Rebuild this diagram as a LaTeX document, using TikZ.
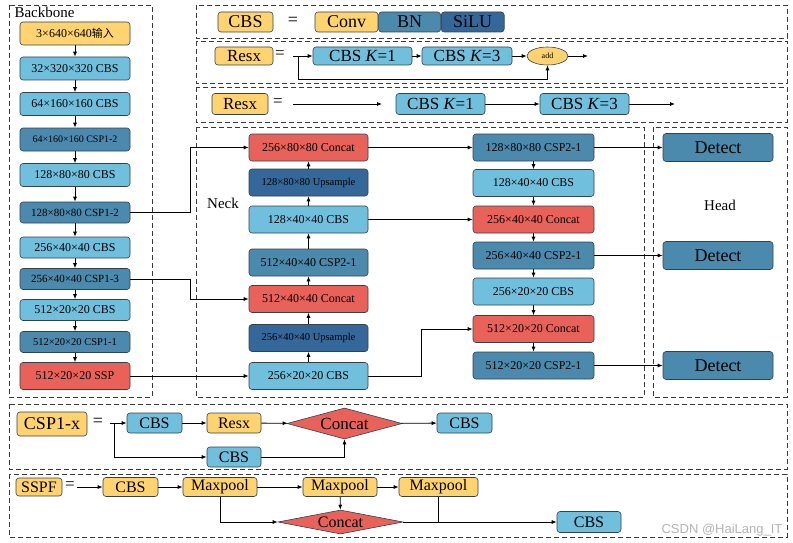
\documentclass[tikz,border=0pt]{standalone}
\usepackage{fontspec}
\setmainfont{Liberation Serif}
\newfontfamily\cjk{Noto Sans CJK SC}
\newfontfamily\wmfont{Liberation Sans}
\usepackage{tikz}
\usetikzlibrary{positioning,arrows.meta,shapes.geometric}
\definecolor{edgegray}{HTML}{33414F}
\definecolor{inyellow}{HTML}{FFD36F}
\definecolor{cbsblue}{HTML}{70BFDD}
\definecolor{cspblue}{HTML}{4B89AD}
\definecolor{updark}{HTML}{34679A}
\definecolor{catred}{HTML}{E8625A}
\definecolor{framegray}{HTML}{3A3A3A}
\definecolor{wmgray}{HTML}{B4B4B4}
\newcommand{\fsz}[1]{\fontsize{#1}{#1}\selectfont}
\tikzset{
    blk/.style={
        draw=edgegray, rounded corners=3pt, line width=0.6pt,
        inner sep=1pt, align=center
    },
    inbox/.style={blk, fill=inyellow},
    cbsbox/.style={blk, fill=cbsblue},
    cspbox/.style={blk, fill=cspblue},
    upbox/.style={blk, fill=updark},
    catbox/.style={blk, fill=catred},
    catdia/.style={
        draw=edgegray, fill=catred, diamond, line width=0.6pt,
        inner sep=0pt, aspect=3.7
    },
    bbnode/.style={minimum width=110pt, minimum height=21pt, font=\fsz{12}},
    necknode/.style={minimum width=119pt, minimum height=27pt, font=\fsz{12}},
    headnode/.style={minimum width=121pt, minimum height=27pt, font=\fsz{12}},
    detect/.style={cspbox, minimum width=110pt, minimum height=28pt, font=\fsz{18}},
    groupbox/.style={draw=framegray, line width=0.9pt, dash pattern=on 5pt off 3pt},
    arrow/.style={-{Latex[length=5pt,width=4pt]}, line width=0.8pt, color=black},
    plain/.style={line width=0.8pt, color=black},
}
\begin{document}
\begin{tikzpicture}[x=1pt, y=-1pt, every node/.style={align=center}]
\useasboundingbox (0,0) rectangle (793,543);

% frames
\draw[groupbox] (9,5) rectangle (152,397);
\draw[groupbox] (196,5) rectangle (787,38);
\draw[groupbox] (196,41) rectangle (787,83);
\draw[groupbox] (196,87) rectangle (787,122);
\draw[groupbox] (196,127) rectangle (644,397);
\draw[groupbox] (653,127) rectangle (787,397);
\draw[groupbox] (9,404) rectangle (787,469);
\draw[groupbox] (9,474) rectangle (787,537);

% backbone
\node[anchor=base west, font=\fsz{15}] (bblabel) at (11,18) {Backbone};
\node[inbox, bbnode, minimum height=23pt] (b1) at (75,33.5) {3×640×640{\cjk\fsz{11}输入}};
\node[cbsbox, bbnode, minimum height=23pt] (b2) at (75,68.5) {32×320×320 CBS};
\node[cbsbox, bbnode, minimum height=23pt] (b3) at (75,104) {64×160×160 CBS};
\node[cspbox, bbnode, minimum height=23pt, font=\fsz{10}] (b4) at (75,139.5) {64×160×160 CSP1-2};
\node[cbsbox, bbnode, minimum height=23pt] (b5) at (75,175) {128×80×80 CBS};
\node[cspbox, bbnode, font=\fsz{11}] (b6) at (75,212.5) {128×80×80 CSP1-2};
\node[cbsbox, bbnode] (b7) at (75,247.5) {256×40×40 CBS};
\node[cspbox, bbnode, font=\fsz{11}] (b8) at (75,279) {256×40×40 CSP1-3};
\node[cbsbox, bbnode] (b9) at (75,310) {512×20×20 CBS};
\node[cspbox, bbnode, font=\fsz{10.5}] (b10) at (75,342) {512×20×20 CSP1-1};
\node[catbox, bbnode, minimum height=27pt] (b11) at (75,376) {512×20×20 SSP};
\foreach \a/\b in {b1/b2,b2/b3,b3/b4,b4/b5,b5/b6,b6/b7,b7/b8,b8/b9,b9/b10,b10/b11}
    \draw[arrow] (\a) -- (\b);

% neck
\node[font=\fsz{15}] (necklabel) at (223,203) {Neck};
\node[catbox, necknode] (n1) at (308.5,147.5) {256×80×80 Concat};
\node[upbox, necknode, font=\fsz{10.5}] (n2) at (308.5,182.5) {128×80×80 Upsample};
\node[cbsbox, necknode] (n3) at (308.5,219.5) {128×40×40 CBS};
\node[cspbox, necknode] (n4) at (308.5,262.5) {512×40×40 CSP2-1};
\node[catbox, necknode] (n5) at (308.5,299) {512×40×40 Concat};
\node[upbox, necknode, font=\fsz{10.5}] (n6) at (308.5,338) {256×40×40 Upsample};
\node[cbsbox, necknode] (n7) at (308.5,376) {256×20×20 CBS};
\foreach \a/\b in {n7/n6,n6/n5,n5/n4,n4/n3,n3/n2,n2/n1}
    \draw[arrow] (\a) -- (\b);

\node[cspbox, headnode] (p1) at (533.5,147.5) {128×80×80 CSP2-1};
\node[cbsbox, headnode] (p2) at (533.5,183) {128×40×40 CBS};
\node[catbox, headnode] (p3) at (533.5,219.5) {256×40×40 Concat};
\node[cspbox, headnode] (p4) at (533.5,255.5) {256×40×40 CSP2-1};
\node[cbsbox, headnode] (p5) at (533.5,291.5) {256×20×20 CBS};
\node[catbox, headnode] (p6) at (533.5,329) {512×20×20 Concat};
\node[cspbox, headnode] (p7) at (533.5,365.5) {512×20×20 CSP2-1};
\foreach \a/\b in {p1/p2,p2/p3,p3/p4,p4/p5,p5/p6,p6/p7}
    \draw[arrow] (\a) -- (\b);

% head
\node[font=\fsz{15}] (headlabel) at (720,205) {Head};
\node[detect] (d1) at (718,147.5) {Detect};
\node[detect] (d2) at (718,255.5) {Detect};
\node[detect] (d3) at (718,365.5) {Detect};

% links
\draw[arrow] (b6.east) -- ++(60,0) |- (n1.west);
\draw[arrow] (b8.east) -- ++(60,0) |- (n5.west);
\draw[arrow] (b11) -- (n7);
\draw[arrow] (n1) -- (p1);
\draw[arrow] (n3) -- (p3);
\draw[arrow] (n7.east) -- ++(53,0) |- (p6.west);
\draw[arrow] (p1) -- (d1);
\draw[arrow] (p4) -- (d2);
\draw[arrow] (p7) -- (d3);

% CBS legend
\node[inbox, minimum width=55pt, minimum height=20pt, font=\fsz{18}] (cbskey) at (245.5,22) {CBS};
\node[font=\fsz{18}] (eq1) at (293,21) {=};
\node[inbox, minimum width=63pt, minimum height=20pt, font=\fsz{18}] (conv) at (346.5,22) {Conv};
\node[cspbox, minimum width=62pt, minimum height=20pt, font=\fsz{18}, right=0pt of conv] (bn) {BN};
\node[upbox, minimum width=63pt, minimum height=20pt, font=\fsz{18}, right=0pt of bn] (silu) {SiLU};

% Resx with add
\node[inbox, minimum width=58pt, minimum height=18pt, font=\fsz{17}] (resa) at (244,56) {Resx};
\node[font=\fsz{17}] (eq2) at (280,55) {=};
\coordinate (resin) at (293,56);
\coordinate (fb) at (298,56);
\node[cbsbox, minimum width=99pt, minimum height=18pt, font=\fsz{17}] (k1a) at (362.5,56) {CBS \textit{K}=1};
\node[cbsbox, minimum width=90pt, minimum height=18pt, font=\fsz{17}] (k3a) at (467,56) {CBS \textit{K}=3};
\node[ellipse, draw=edgegray, fill=inyellow, line width=0.6pt, minimum width=41pt, minimum height=18pt, inner sep=0pt, font=\fsz{8}] (add) at (547.5,56) {add};
\coordinate (resout) at (588,56);
\draw[arrow] (resin) -- (k1a);
\draw[arrow] (k1a) -- (k3a);
\draw[arrow] (k3a) -- (add);
\draw[arrow] (add) -- (resout);
\draw[arrow] (fb) -- ++(0,23) -| (add.south);

% Resx plain
\node[inbox, minimum width=56pt, minimum height=21pt, font=\fsz{17}] (resb) at (240,104) {Resx};
\node[font=\fsz{17}] (eq3) at (278,103) {=};
\coordinate (r3a) at (293,104);
\coordinate (r3b) at (382,104);
\node[cbsbox, minimum width=89pt, minimum height=21pt, font=\fsz{17}] (k1b) at (440.5,104) {CBS \textit{K}=1};
\node[cbsbox, minimum width=89pt, minimum height=21pt, font=\fsz{17}] (k3b) at (584.5,104) {CBS \textit{K}=3};
\coordinate (r3c) at (675,104);
\draw[arrow] (r3a) -- (r3b);
\draw[arrow] (k1b) -- (k3b);
\draw[arrow] (k3b) -- (r3c);

% CSP1-x
\node[inbox, minimum width=70pt, minimum height=24pt, font=\fsz{18}] (cspx) at (52,424) {CSP1-x};
\node[font=\fsz{18}] (eq4) at (98,422) {=};
\coordinate (cin) at (110,423);
\coordinate (cbr) at (114,423);
\node[cbsbox, minimum width=55pt, minimum height=20pt, font=\fsz{16}] (c1) at (154.5,423) {CBS};
\node[inbox, minimum width=54pt, minimum height=20pt, font=\fsz{16}] (rx) at (234,423) {Resx};
\node[catdia, minimum width=115pt, minimum height=31pt, font=\fsz{17}] (cat1) at (344.5,423.5) {Concat};
\node[cbsbox, minimum width=54pt, minimum height=20pt, font=\fsz{16}] (c2) at (234,457) {CBS};
\node[cbsbox, minimum width=55pt, minimum height=20pt, font=\fsz{16}] (c3) at (464.5,423) {CBS};
\draw[arrow] (cin) -- (c1);
\draw[arrow] (cbr) |- (c2);
\draw[arrow] (c1) -- (rx);
\draw[arrow] (rx) -- (cat1);
\draw[arrow] (c2) -| (cat1.south);
\draw[arrow] (cat1) -- (c3);

% SSPF
\node[inbox, minimum width=46pt, minimum height=18pt, font=\fsz{16}] (sspf) at (39,487) {SSPF};
\node[font=\fsz{17}] (eq5) at (70,486) {=};
\coordinate (sin) at (77,487);
\node[inbox, minimum width=55pt, minimum height=19pt, font=\fsz{16}] (s1) at (130.5,487) {CBS};
\node[inbox, minimum width=74pt, minimum height=19pt, font=\fsz{16}] (m1) at (220,487) {Maxpool};
\node[inbox, minimum width=74pt, minimum height=19pt, font=\fsz{16}] (m2) at (340,487) {Maxpool};
\node[inbox, minimum width=79pt, minimum height=19pt, font=\fsz{16}] (m3) at (438.5,487) {Maxpool};
\node[catdia, minimum width=125pt, minimum height=24pt, aspect=5, font=\fsz{16}] (cat2) at (340.5,522) {Concat};
\node[cbsbox, minimum width=64pt, minimum height=21pt, font=\fsz{16}] (s2) at (589,522) {CBS};
\draw[arrow] (sin) -- (s1);
\draw[arrow] (s1) -- (m1);
\draw[arrow] (m1) -- (m2);
\draw[arrow] (m2) -- (m3);
\draw[arrow] (m1.south) |- (cat2.west);
\draw[arrow] (m2) -- (cat2);
\draw[arrow] (cat2.east) -- (s2.west);
\draw[plain] (m3.south) -- (m3.south |- cat2.east);

\node[text=wmgray, font=\wmfont\fsz{13}] (wm) at (722,530) {CSDN @HaiLang\_IT};
\end{tikzpicture}
\end{document}
